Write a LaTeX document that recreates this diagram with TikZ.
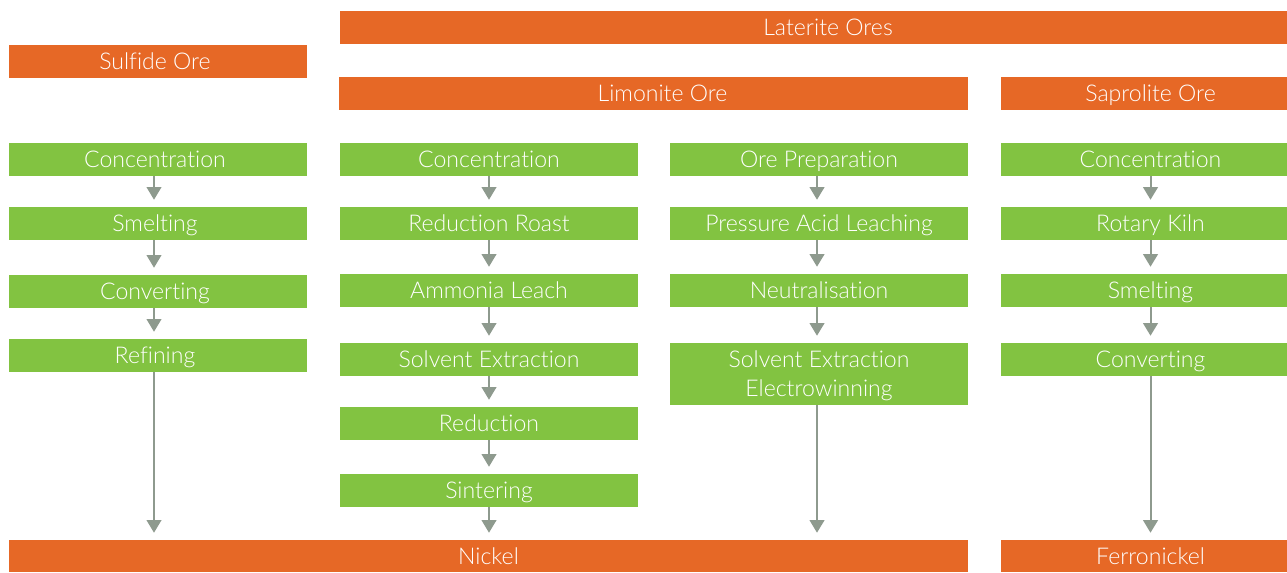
\documentclass[tikz,border=0pt]{standalone}
\usepackage{fontspec}
\setmainfont{Lato Light}[Ligatures=NoCommon]
\usetikzlibrary{arrows.meta}
\definecolor{ore}{HTML}{E66826}
\definecolor{step}{HTML}{82C341}
\definecolor{arr}{HTML}{8E9A8E}
\tikzset{
  box/.style={fill=#1, text=white, inner sep=0pt, align=center,
    font=\fontsize{17.3}{21.75}\selectfont},
  oneline/.style={text height=12.4pt, text depth=0pt},
  twoline/.style={text depth=0pt},
  flow/.style={draw=arr, line width=1.5pt, -{Triangle[width=11pt,length=9.5pt]}, shorten >=5.25pt},
}
\newcommand{\bx}[8][oneline]{% opts, name, color, x1, y1, x2, y2, text
  \node[box=#3, #1, minimum width={(#6-#4)*0.75pt}, minimum height={(#7-#5)*0.75pt}]
    (#2) at ({(#4+#6)/2},{(#5+#7)/2}) {#8};}
\newcommand{\lft}{\hspace*{-4.5pt}}
\begin{document}
\begin{tikzpicture}[x=0.75pt,y=-0.75pt]
\fill[white] (0,0) rectangle (1287,572);
\useasboundingbox (0,0) rectangle (1287,572);
% ore headers
\bx{laterite}{ore}{340}{11}{1316}{44}{Laterite Ores}
\bx{sulfide}{ore}{9}{45}{307}{78}{\lft Sulfide Ore}
\bx{limonite}{ore}{339}{77}{968}{110}{\hspace*{13.5pt}Limonite Ore}
\bx{saprolite}{ore}{1001}{77}{1300}{110}{Saprolite Ore}
% column 1
\bx{a1}{step}{9}{143}{307}{176}{\lft Concentration}
\bx{a2}{step}{9}{207}{307}{240}{\lft Smelting}
\bx{a3}{step}{9}{275}{307}{308}{\lft Converting}
\bx{a4}{step}{9}{339}{307}{372}{\lft Refining}
% column 2
\bx{b1}{step}{340}{143}{638}{176}{Concentration}
\bx{b2}{step}{340}{207}{638}{240}{Reduction Roast}
\bx{b3}{step}{340}{274}{638}{307}{Ammonia Leach}
\bx{b4}{step}{340}{343}{638}{376}{Solvent Extraction}
\bx{b5}{step}{340}{407}{638}{440}{Reduction}
\bx{b6}{step}{340}{474}{638}{507}{Sintering}
% column 3
\bx{c1}{step}{670}{143}{968}{176}{Ore Preparation}
\bx{c2}{step}{670}{207}{968}{240}{Pressure Acid Leaching}
\bx{c3}{step}{670}{274}{968}{307}{Neutralisation}
\bx[twoline]{c4}{step}{670}{343}{968}{405}{Solvent Extraction\\Electrowinning}
% column 4
\bx{d1}{step}{1001}{143}{1300}{176}{Concentration}
\bx{d2}{step}{1001}{207}{1300}{240}{Rotary Kiln}
\bx{d3}{step}{1001}{274}{1300}{307}{Smelting}
\bx{d4}{step}{1001}{343}{1300}{376}{Converting}
% products
\bx{nickel}{ore}{9}{540}{968}{572}{Nickel}
\bx{ferro}{ore}{1001}{540}{1300}{572}{Ferronickel}
% arrows
\foreach \p/\q in {a1/a2,a2/a3,a3/a4}
  \draw[flow] ([xshift=-3]\p.south) -- ([xshift=-3]\q.north);
\foreach \p/\q in {b1/b2,b2/b3,b3/b4,b4/b5,b5/b6,d1/d2,d2/d3,d3/d4}
  \draw[flow] (\p.south) -- (\q.north);
\foreach \p/\q in {c1/c2,c2/c3,c3/c4}
  \draw[flow] ([xshift=-1.5]\p.south) -- ([xshift=-1.5]\q.north);
\draw[flow] ([xshift=-3]a4.south) -- ([xshift=-3]a4.south |- nickel.north);
\draw[flow] (b6.south) -- (b6.south |- nickel.north);
\draw[flow] ([xshift=-1.5]c4.south) -- ([xshift=-1.5]c4.south |- nickel.north);
\draw[flow] (d4.south) -- (d4.south |- ferro.north);
\end{tikzpicture}
\end{document}
